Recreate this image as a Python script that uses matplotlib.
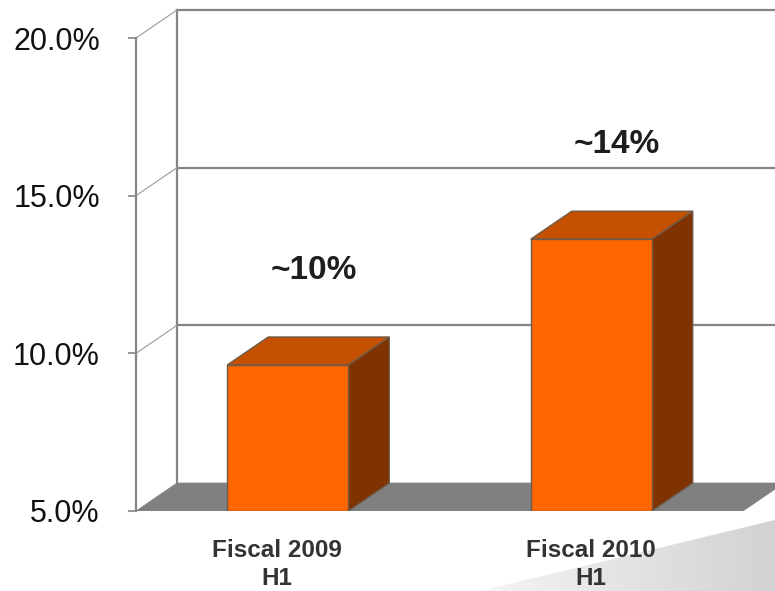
import matplotlib
matplotlib.use("Agg")
import matplotlib.pyplot as plt
from matplotlib.patches import Polygon
import matplotlib.transforms as mtransforms
import numpy as np

# ---- data ----
categories = ["Fiscal 2009\nH1", "Fiscal 2010\nH1"]
values = [9.63, 13.62]          # bar heights (%)
value_labels = ["~10%", "~14%"]
yticks = [5, 10, 15, 20]
ytick_labels = ["5.0%", "10.0%", "15.0%", "20.0%"]

# ---- style / geometry ----
W, H = 775, 591
fig = plt.figure(figsize=(W / 100, H / 100), dpi=100)
fig.patch.set_facecolor("white")

# swoosh background (bottom right)
bg = fig.add_axes([0, 0, 1, 1], zorder=0)
bg.set_xlim(0, W); bg.set_ylim(H, 0); bg.axis("off")
grad = np.linspace(0, 1, 256).reshape(1, -1)
im = bg.imshow(grad, extent=[470, W, H, 515], cmap=matplotlib.colors.LinearSegmentedColormap.from_list(
    "g", ["#f6f6f6", "#d2d2d2"]), aspect="auto", zorder=0)
sw = Polygon([(480, H), (W, 520), (W, H)], closed=True, transform=bg.transData, facecolor="none", edgecolor="none")
bg.add_patch(sw)
im.set_clip_path(sw)

# main axes: left spine at px 136, y=5 at px 511, top at px 10
left_px, bottom_px, top_px = 136, 511, 10
px_per_pct = (511 - 38) / 15.0
ymax = 5 + (bottom_px - top_px) / px_per_pct
ax = fig.add_axes([left_px / W, (H - bottom_px) / H, (W - left_px) / W, (bottom_px - top_px) / H], zorder=1)
ax.patch.set_alpha(0)
xmin = -0.5
unit_px = 303.5
xmax = xmin + (W - left_px) / unit_px
ax.set_xlim(xmin, xmax)
ax.set_ylim(5, ymax)

ddx = 41 / unit_px        # depth offset in x units
ddy = 28 / px_per_pct     # depth offset in % units
bar_w = 121 / unit_px
grid_c = "#858585"

# back wall
ax.plot([xmin + ddx, xmin + ddx], [5 + ddy, 20 + ddy], color=grid_c, lw=1.6, zorder=1, clip_on=False)
for v in yticks[1:]:
    ax.plot([xmin + ddx, xmax], [v + ddy, v + ddy], color=grid_c, lw=1.6, zorder=1, clip_on=False)
    ax.plot([xmin, xmin + ddx], [v, v + ddy], color="#9a9a9a", lw=0.8, zorder=1, clip_on=False)

# floor
x_floor_r = 1.5
floor = Polygon([(xmin, 5), (x_floor_r, 5), (x_floor_r + ddx, 5 + ddy), (xmin + ddx, 5 + ddy)],
                closed=True, facecolor="#808080", edgecolor="#808080", lw=0.5, zorder=2)
ax.add_patch(floor)

# bars
x = np.arange(len(categories))
edge = "#6e5a48"
for xi, v in zip(x, values):
    l, r = xi - bar_w / 2, xi + bar_w / 2
    side = Polygon([(r, 5), (r + ddx, 5 + ddy), (r + ddx, v + ddy), (r, v)], closed=True,
                   facecolor="#7f3300", edgecolor=edge, lw=1, zorder=3)
    top = Polygon([(l, v), (r, v), (r + ddx, v + ddy), (l + ddx, v + ddy)], closed=True,
                  facecolor="#c45000", edgecolor=edge, lw=1, zorder=3)
    ax.add_patch(side); ax.add_patch(top)
ax.bar(x, np.array(values) - 5, bottom=5, width=bar_w, color="#ff6600", edgecolor=edge, lw=1, zorder=4)

# value labels
for xi, v, t in zip(x, values, value_labels):
    ax.text(xi + 0.085, v + 3.0, t, ha="center", va="center", fontsize=24, fontweight="bold",
            family="Liberation Sans", color="#1e1e1e", zorder=5)

# axes styling
for s in ["top", "right", "bottom"]:
    ax.spines[s].set_visible(False)
ax.spines["left"].set_bounds(5, 20)
ax.spines["left"].set_color(grid_c)
ax.spines["left"].set_linewidth(1.6)
ax.set_yticks(yticks)
ax.set_yticklabels(ytick_labels, fontsize=22, family="Liberation Sans", color="#111111")
ax.tick_params(axis="y", length=6, width=1.2, color=grid_c, pad=20)
ax.set_xticks(x)
ax.set_xticklabels(categories, fontsize=17.5, fontweight="bold", family="Liberation Sans",
                   color="#333333", linespacing=1.3)
ax.tick_params(axis="x", length=0, pad=20)
# first category label sits slightly left of its bar in the reference
lbl0 = ax.get_xticklabels()[0]
lbl0.set_transform(lbl0.get_transform() + mtransforms.ScaledTranslation(-11 / 100, 0, fig.dpi_scale_trans))

fig.savefig("out.png", dpi=100, facecolor="white")
